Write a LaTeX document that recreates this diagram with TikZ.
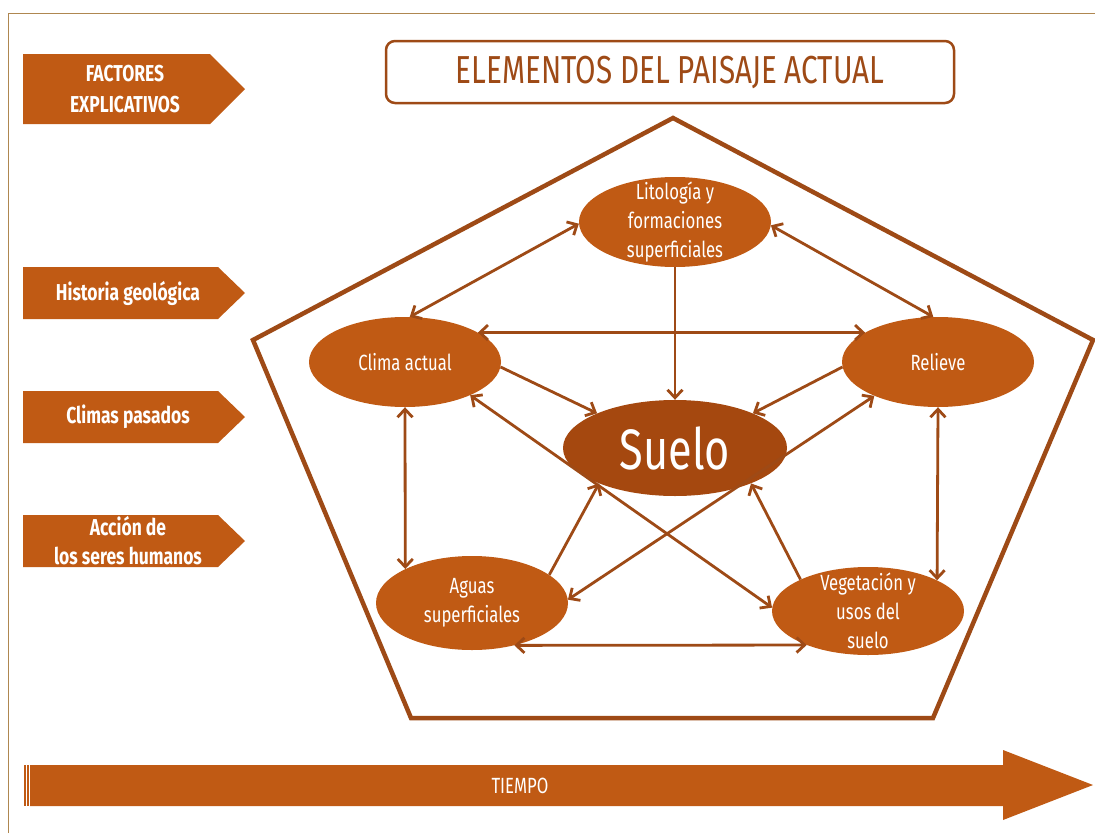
\documentclass[tikz,border=0pt]{standalone}
\usepackage{fontspec}
\usetikzlibrary{shapes.geometric,arrows.meta}
\newfontfamily\handfont[FakeStretch=0.76]{Fira Sans}
\definecolor{rust}{RGB}{192,90,20}
\definecolor{soilbrown}{RGB}{165,72,15}
\definecolor{linebrown}{RGB}{158,74,22}
\definecolor{framegold}{RGB}{175,135,80}

\begin{document}
\begin{tikzpicture}[x=1pt, y=-1pt,
  tagfill/.style={fill=rust},
  tagtext/.style={text=white, font=\handfont\bfseries\fontsize{23}{31}\selectfont, align=center},
  elem/.style={ellipse, fill=rust, minimum width=192pt, minimum height=90pt, inner sep=0pt},
  elemtext/.style={text=white, align=center, font=\handfont\fontsize{22}{29}\selectfont},
  link/.style={draw=linebrown, line width=2.8pt, {Straight Barb[length=8pt,width=15pt]}-{Straight Barb[length=8pt,width=15pt]}},
  onelink/.style={link, -{Straight Barb[length=8pt,width=15pt]}}]

\useasboundingbox (0,0) rectangle (1095,833);
\fill[white] (0,0) rectangle (1095,833);

% frame of the page
\draw[framegold, line width=1pt] (8,833) -- (8,13) -- (1095,13);

% factores explicativos
\fill[tagfill] (23,54) -- (210,54) -- (245,89) -- (210,124) -- (23,124) -- cycle;
\node[tagtext] (factores) at (125,89) {FACTORES\\EXPLICATIVOS};

\fill[tagfill] (23,267) -- (218,267) -- (245,293) -- (218,319) -- (23,319) -- cycle;
\node[tagtext] (historia) at (128,293) {Historia geológica};

\fill[tagfill] (23,391) -- (218,391) -- (245,417) -- (218,443) -- (23,443) -- cycle;
\node[tagtext] (climas) at (128,417) {Climas pasados};

\fill[tagfill] (23,515) -- (218,515) -- (245,541) -- (218,567) -- (23,567) -- cycle;
\node[tagtext, font=\handfont\bfseries\fontsize{23}{29}\selectfont] (accion) at (128,541) {Acción de\\los seres humanos};

% title
\node[draw=linebrown, line width=2.5pt, rounded corners=9pt, minimum width=568pt,
  minimum height=62pt, text=linebrown, font=\handfont\fontsize{39}{39}\selectfont]
  (titulo) at (670,72) {ELEMENTOS DEL PAISAJE ACTUAL};

% pentagon
\draw[linebrown, line width=4.5pt] (673,118) -- (1093,340) -- (933,718) -- (411,718) -- (253,340) -- cycle;

% elements
\node[elem] (lito) at (675,222) {};
\node[elemtext] (litotxt) at (lito) {Litología y\\formaciones\\superficiales};
\node[elem] (clima) at (405,362) {};
\node[elemtext] (climatxt) at (clima) {Clima actual};
\node[elem] (relieve) at (938,362) {};
\node[elemtext] (relievetxt) at (relieve) {Relieve};
\node[elem, fill=soilbrown, minimum width=224pt, minimum height=96pt] (suelo) at (675,448) {};
\node[elemtext, font=\handfont\fontsize{57}{57}\selectfont] (suelotxt) at (suelo) {Suelo};
\node[elem, minimum height=94pt] (aguas) at (472,603) {};
\node[elemtext] (aguastxt) at (aguas) {Aguas\\superficiales};
\node[elem, minimum height=88pt] (veg) at (868,611) {};
\node[elemtext] (vegtxt) at (veg) {Vegetación y\\usos del\\suelo};

% links
\draw[link] (lito.181) -- (clima.84);
\draw[link] (lito.-2) -- (relieve.96);
\draw[onelink] (lito.south) -- (suelo.north);
\draw[link] (clima.22) -- (relieve.158);
\draw[onelink] (clima.-3) -- (suelo.156);
\draw[onelink] (relieve.183) -- (suelo.24);
\draw[link] (clima.-27) -- (veg.178);
\draw[link] (relieve.208) -- (aguas.2);
\draw[onelink] (aguas.20) -- (suelo.205);
\draw[onelink] (veg.155) -- (suelo.-25);
\draw[link] (clima.south) -- (aguas.153);
\draw[link] (relieve.south) -- (veg.24);
\draw[link] (aguas.-45) -- (veg.209);

% tiempo
\fill[tagfill] (24,765) rectangle (25.5,806);
\fill[tagfill] (27,765) rectangle (28.5,806);
\fill[tagfill] (30,765) -- (1003,765) -- (1003,750) -- (1093,785) -- (1003,820) -- (1003,806) -- (30,806) -- cycle;
\node[tagtext, font=\handfont\fontsize{22}{22}\selectfont] (tiempo) at (520,786) {TIEMPO};

\end{tikzpicture}
\end{document}
